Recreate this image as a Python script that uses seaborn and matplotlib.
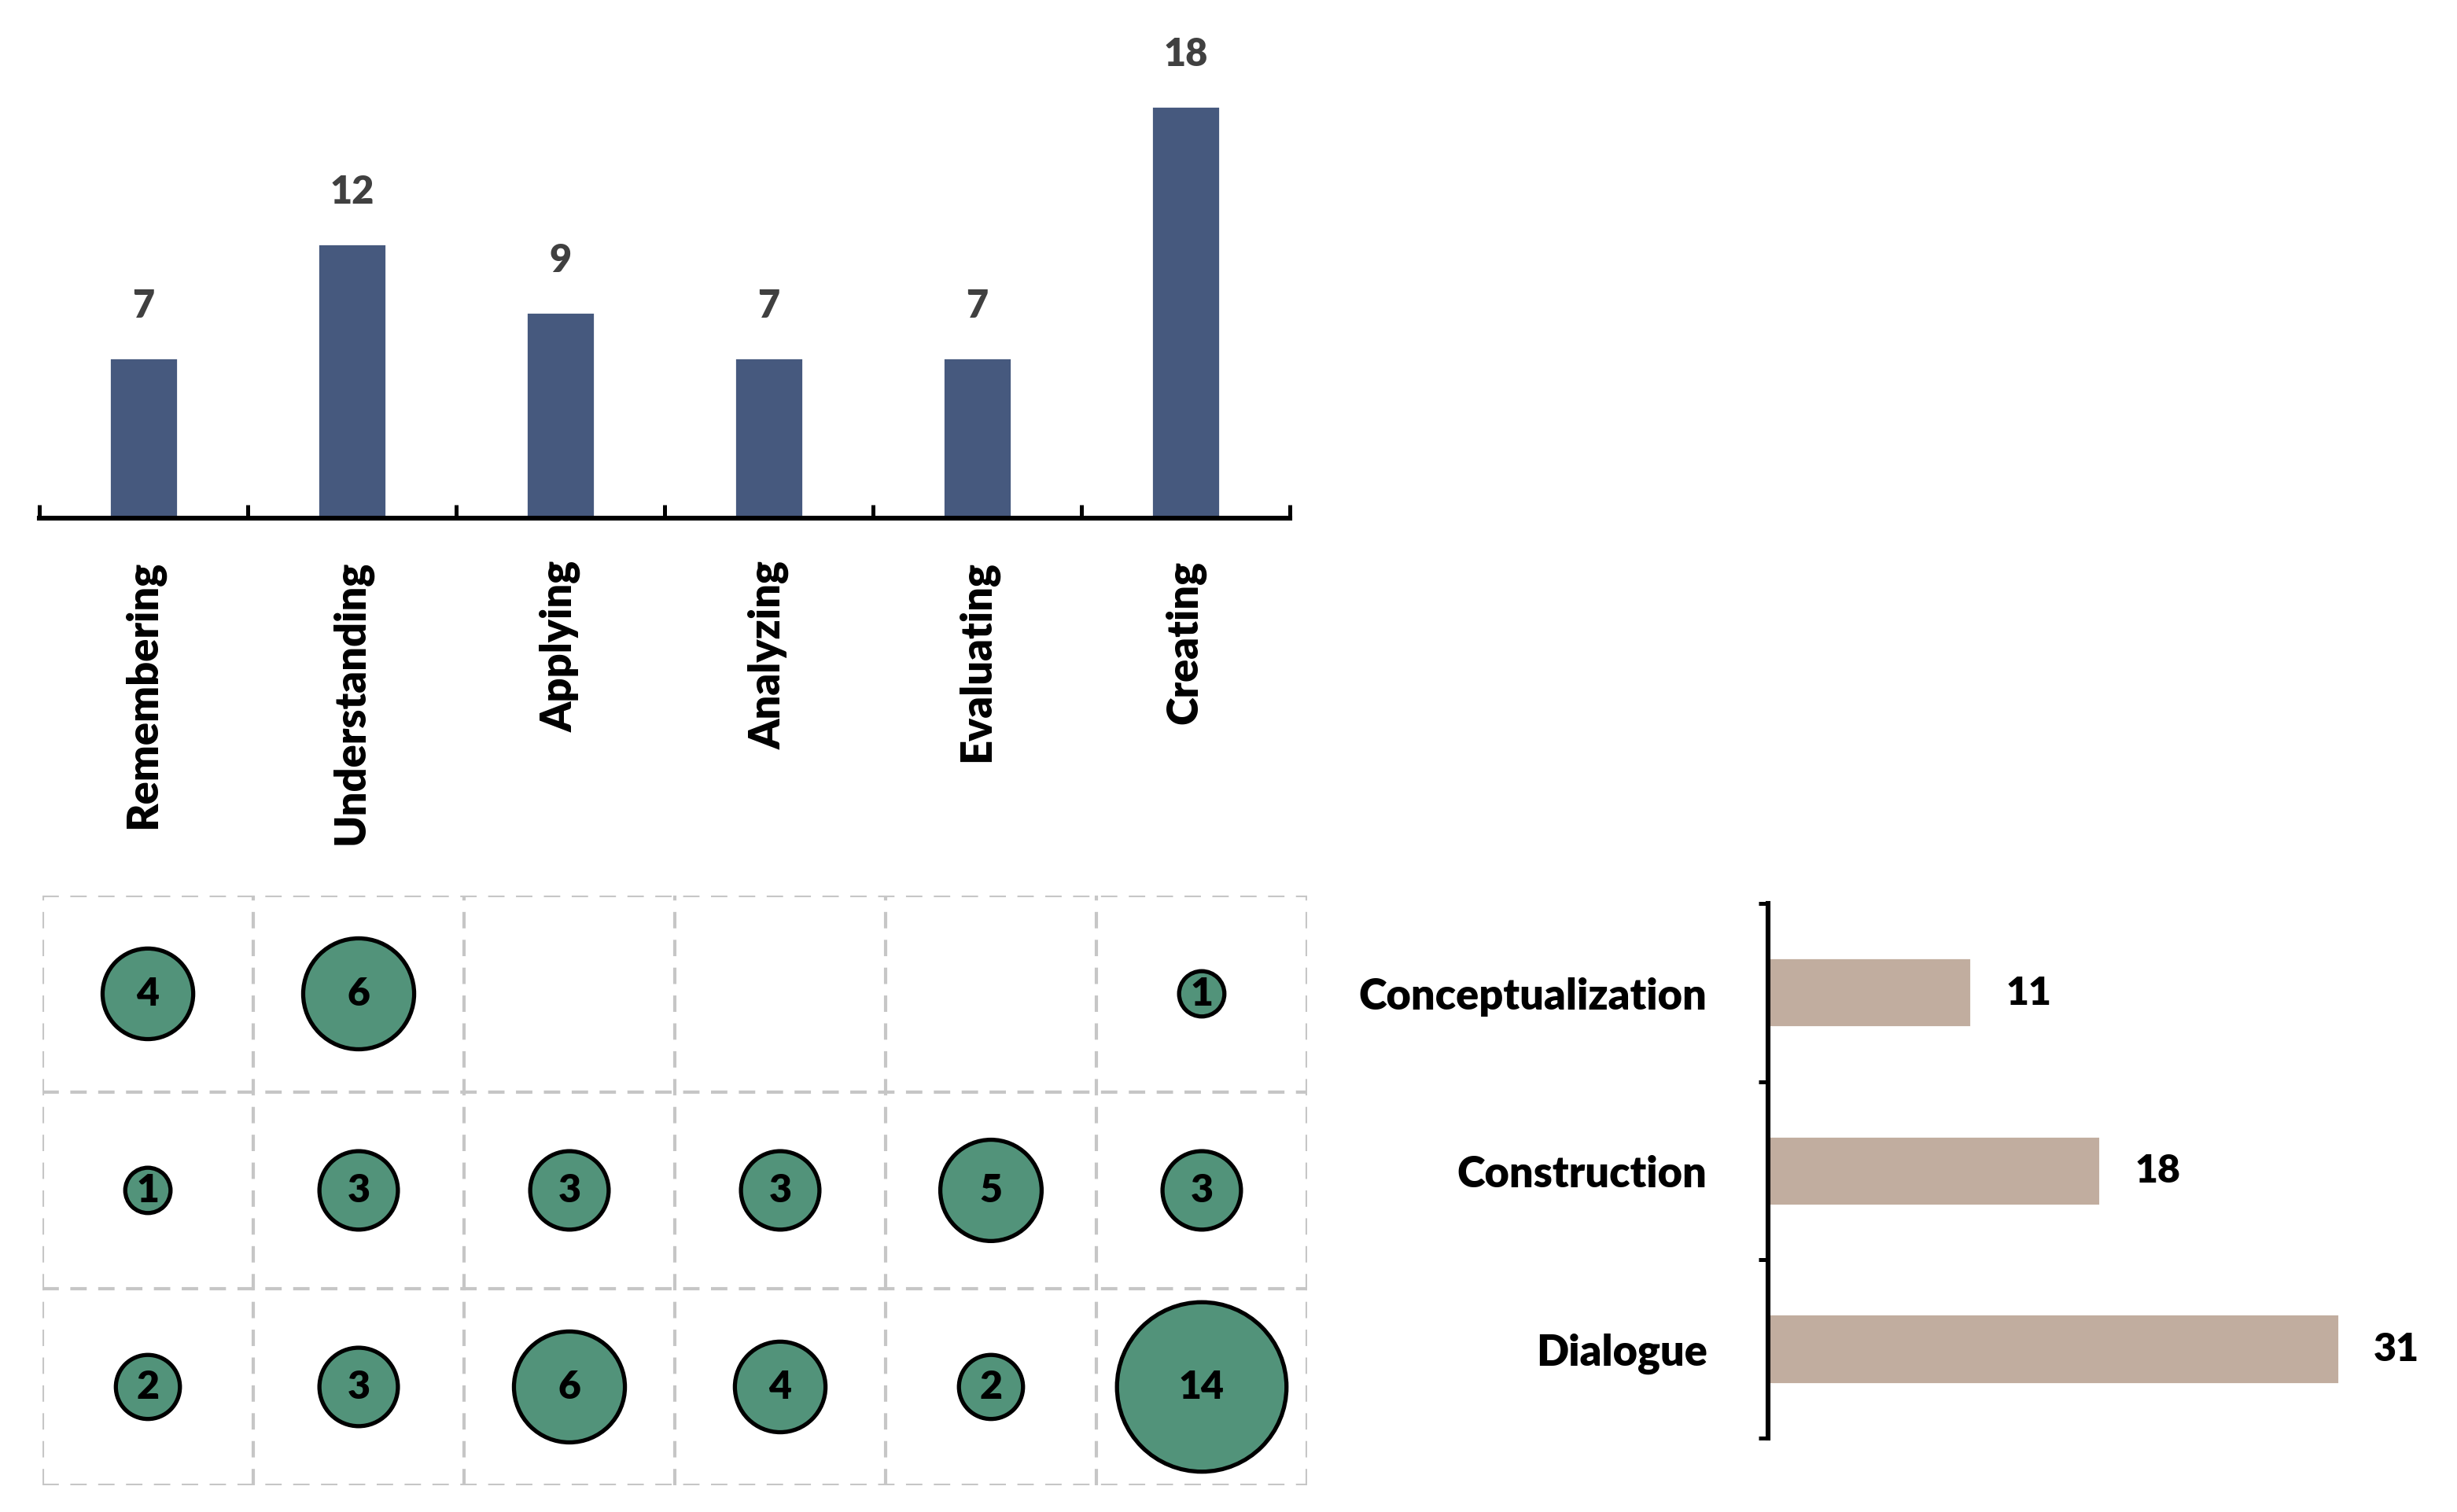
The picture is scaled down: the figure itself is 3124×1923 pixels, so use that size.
import matplotlib
matplotlib.use("Agg")
import matplotlib.pyplot as plt
import seaborn as sns
import pandas as pd
import numpy as np

# -----------------------------
# Data
# -----------------------------
levels = ["Remembering", "Understanding", "Applying", "Analyzing", "Evaluating", "Creating"]
level_counts = [7, 12, 9, 7, 7, 18]

phases = ["Conceptualization", "Construction", "Dialogue"]
phase_counts = [11, 18, 31]

# rows = phases, columns = levels (0 = empty cell)
cross_conceptualization = [4, 6, 0, 0, 0, 1]
cross_construction = [1, 3, 3, 3, 5, 3]
cross_dialogue = [2, 3, 6, 4, 2, 14]

BAR_BLUE = "#46597e"
BAR_TAN = "#c1ad9f"
BUBBLE = "#52937a"
WEIGHT = "heavy"

sns.set_theme(style="white")
plt.rcParams["font.family"] = ["Lato", "DejaVu Sans"]
plt.rcParams["font.weight"] = WEIGHT

fig = plt.figure(figsize=(15.62, 9.62), dpi=200)

# -----------------------------
# Top bar chart
# -----------------------------
ax_top = fig.add_axes([0.016, 0.657, 0.509, 0.3326])
sns.barplot(x=levels, y=level_counts, color=BAR_BLUE, width=0.33,
            saturation=1, ax=ax_top)
ax_top.set_xlim(-0.5, 5.5)
ax_top.set_ylim(0, 22)
for s in ["top", "right", "left"]:
    ax_top.spines[s].set_visible(False)
ax_top.spines["bottom"].set_linewidth(2.2)
ax_top.spines["bottom"].set_color("black")
ax_top.set_yticks([])
ax_top.set_xticks(np.arange(-0.5, 6, 1))
ax_top.set_xticklabels([])
ax_top.tick_params(axis="x", which="major", direction="in", length=6,
                   width=1.8, color="black", bottom=True)
ax_top.set_xticks(range(len(levels)), minor=True)
ax_top.set_xticklabels(levels, minor=True, rotation=90, fontsize=19.5,
                       fontweight=WEIGHT, color="black", va="top")
ax_top.tick_params(axis="x", which="minor", length=0, pad=19)
for i, v in enumerate(level_counts):
    ax_top.annotate(str(v), (i, v), xytext=(0, 24), textcoords="offset points",
                    ha="center", va="center", fontsize=17.5, fontweight=WEIGHT,
                    color="#404040")

# -----------------------------
# Bubble matrix
# -----------------------------
cross = [cross_conceptualization, cross_construction, cross_dialogue]
rows = []
for r, vals in enumerate(cross):
    for c, v in enumerate(vals):
        if v > 0:
            rows.append({"col": c, "row": r, "n": v})
df = pd.DataFrame(rows)

ax_b = fig.add_axes([0.0173, 0.0177, 0.5147, 0.3898])
sns.scatterplot(data=df, x="col", y="row", size="n", sizes=(430, 430 * 14),
                size_norm=(1, 14), color=BUBBLE, edgecolor="black",
                linewidth=1.9, alpha=1, legend=False, ax=ax_b, zorder=3)
ax_b.set_xlim(-0.5, 5.5)
ax_b.set_ylim(2.5, -0.5)
ax_b.set_xticks([])
ax_b.set_yticks([])
ax_b.set_xlabel("")
ax_b.set_ylabel("")
for s in ax_b.spines.values():
    s.set_visible(False)
dash = dict(color="#c6c6c6", linewidth=1.5, linestyle=(0, (5, 3.5)), zorder=1)
for x in np.arange(-0.5, 6, 1):
    ax_b.axvline(x, **dash)
for y in np.arange(-0.5, 3, 1):
    ax_b.axhline(y, **dash)
for _, rr in df.iterrows():
    ax_b.text(rr["col"], rr["row"], str(int(rr["n"])), ha="center", va="center",
              fontsize=18, fontweight=WEIGHT, color="black", zorder=4)

# -----------------------------
# Horizontal bar chart
# -----------------------------
ax_h = fig.add_axes([0.7197, 0.0489, 0.2622, 0.3534])
sns.barplot(x=phase_counts, y=phases, orient="h", color=BAR_TAN, width=0.39,
            saturation=1, ax=ax_h)
ax_h.set_xlim(0, 35)
ax_h.set_ylim(2.5, -0.5)
for s in ["top", "right", "bottom"]:
    ax_h.spines[s].set_visible(False)
ax_h.spines["left"].set_linewidth(2.2)
ax_h.spines["left"].set_color("black")
ax_h.set_xticks([])
ax_h.set_yticks(np.arange(-0.5, 3, 1))
ax_h.set_yticklabels([])
ax_h.tick_params(axis="y", which="major", direction="out", length=4.5,
                 width=1.8, color="black", left=True)
ax_h.set_yticks(range(len(phases)), minor=True)
ax_h.set_yticklabels(phases, minor=True, fontsize=19.5, fontweight=WEIGHT,
                     color="black")
ax_h.tick_params(axis="y", which="minor", length=0, pad=28)
for i, v in enumerate(phase_counts):
    ax_h.annotate(str(v), (v, i), xytext=(16, 0), textcoords="offset points",
                  ha="left", va="center", fontsize=18, fontweight=WEIGHT,
                  color="black")

fig.savefig("out.png", dpi=200, facecolor="white")
